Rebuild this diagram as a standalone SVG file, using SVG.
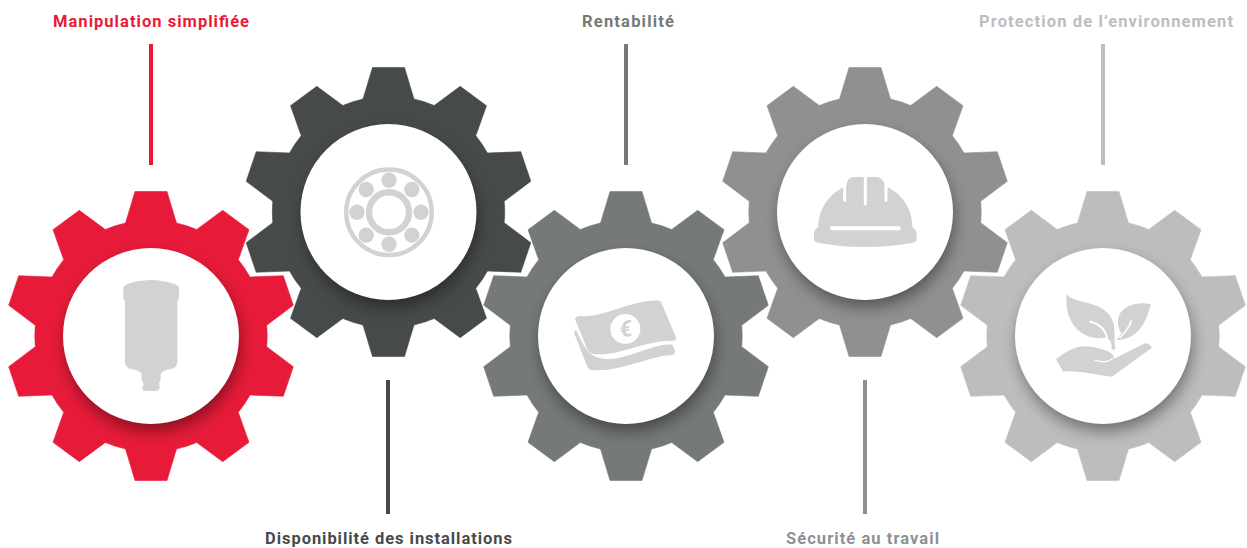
<svg xmlns="http://www.w3.org/2000/svg" xmlns:xlink="http://www.w3.org/1999/xlink" width="1247" height="548" viewBox="0 0 1247 548">
<style>
text{font-family:"Roboto","Liberation Sans",sans-serif;font-weight:700;font-size:16.5px}
.ic{fill:#d1d2d4}
.wl{fill:none;stroke:#fff;stroke-linecap:round}
.disc{fill:#fff}
.sh{fill:#000;fill-opacity:.42;filter:url(#blur)}
.gear{stroke-width:.6;stroke-linejoin:round}
</style>
<defs>
<filter id="blur" x="-30%" y="-30%" width="160%" height="160%"><feGaussianBlur stdDeviation="8"/></filter>
<path id="gp" d="M-16,-144.5H16L25.5,-113A116,116 0 0 1 45.7,-106.5L71.7,-125.7L98,-106.3L87.3,-76.3A116,116 0 0 1 99,-59L132.3,-60.3L142.3,-30.7L115.7,-10.7A116,116 0 0 1 115.7,10.7L142.3,30.7L132.3,60.3L99,59A116,116 0 0 1 87.3,76.3L98,106.3L71.7,125.7L45.7,106.5A116,116 0 0 1 25.5,113L16,144.5H-16L-25.5,113A116,116 0 0 1 -45.7,106.5L-71.7,125.7L-98,106.3L-87.3,76.3A116,116 0 0 1 -99,59L-132.3,60.3L-142.3,30.7L-115.7,10.7A116,116 0 0 1 -115.7,-10.7L-142.3,-30.7L-132.3,-60.3L-99,-59A116,116 0 0 1 -87.3,-76.3L-98,-106.3L-71.7,-125.7L-45.7,-106.5A116,116 0 0 1 -25.5,-113Z"/>
<clipPath id="gc"><use xlink:href="#gp" href="#gp"/></clipPath>
<g id="base">
<g clip-path="url(#gc)"><circle class="sh" cx="2" cy="8" r="87"/></g>
<circle class="disc" r="88"/>
</g>
</defs>
<g id="connectors" stroke-width="4" fill="none">
<line x1="151" y1="44" x2="151" y2="165" stroke="#e71b39"/>
<line x1="388" y1="380" x2="388" y2="514" stroke="#474a4b"/>
<line x1="626" y1="44" x2="626" y2="165" stroke="#76797a"/>
<line x1="865" y1="380" x2="865" y2="514" stroke="#8f9092"/>
<line x1="1103" y1="44" x2="1103" y2="165" stroke="#bcbdbf"/>
</g>
<g id="node-manipulation">
<g transform="translate(151,336)"><use href="#gp" class="gear" fill="#e71b39" stroke="#e71b39"/><use href="#base"/></g>
<path class="ic" transform="translate(0,170) scale(.3333)" d="M370,352Q375,342 405,335Q453,325 500,335Q532,342 537,352V384Q537,390 532,390V575Q532,592 515,597Q485,600 482,612V630Q476,638 478,648Q481,654 478,658Q474,663 465,663H440Q428,663 427,656Q426,650 431,646Q431,636 425,630V612Q420,600 392,597Q375,592 375,575V390Q370,390 370,384Z"/>
<text x="53" y="27" textLength="196" lengthAdjust="spacing" fill="#e71b39">Manipulation simplifiée</text>
</g>
<g id="node-disponibilite">
<g transform="translate(388.5,212)"><use href="#gp" class="gear" fill="#474a4b" stroke="#474a4b"/><use href="#base"/></g>
<g transform="translate(389,212.3)">
<circle r="42.8" fill="none" stroke="#d1d2d4" stroke-width="4.4"/>
<circle r="20" fill="none" stroke="#d1d2d4" stroke-width="6.4"/>
<g class="ic"><circle cx="32" r="7.7"/><circle cx="-32" r="7.7"/><circle cy="32" r="7.7"/><circle cy="-32" r="7.7"/><circle cx="22.8" cy="22.8" r="7.7"/><circle cx="-22.8" cy="22.8" r="7.7"/><circle cx="22.8" cy="-22.8" r="7.7"/><circle cx="-22.8" cy="-22.8" r="7.7"/></g>
</g>
<text x="265" y="544" textLength="247" lengthAdjust="spacing" fill="#474a4b">Disponibilité des installations</text>
</g>
<g id="node-rentabilite">
<g transform="translate(626,336)"><use href="#gp" class="gear" fill="#76797a" stroke="#76797a"/><use href="#base"/></g>
<g transform="translate(550,290) scale(.3333)">
<path class="ic" d="M75,88Q76,79 90,78C160,85 230,35 320,31Q332,31 336,42L378,142Q380,152 370,152C280,150 210,200 130,192Q118,190 112,178Z"/>
<path class="ic" d="M72,128Q72,120 80,122C100,165 112,195 150,205C220,220 290,165 362,163Q370,165 372,175L375,185Q374,194 365,195C290,200 210,248 125,240Q115,238 110,225Z"/>
<circle cx="226" cy="117" r="45" fill="#fff"/>
<text x="226" y="140" transform="rotate(-10 226 117) skewX(-8)" text-anchor="middle" style="font-size:66px" fill="#d1d2d4" dx="18">€</text>
</g>
<text x="582" y="27" textLength="92" lengthAdjust="spacing" fill="#76797a">Rentabilité</text>
</g>
<g id="node-securite">
<g transform="translate(865,212)"><use href="#gp" class="gear" fill="#8f9092" stroke="#8f9092"/><use href="#base"/></g>
<g transform="translate(790,160) scale(.3333)">
<path class="ic" d="M72,240V218Q74,208 85,200C85,150 115,105 160,82Q170,80 171,68Q175,52 190,51H258Q278,52 283,70Q284,80 293,82C340,105 367,150 367,200Q378,208 380,218V240Q378,247 370,248C280,265 170,265 82,248Q74,247 72,240Z"/>
<line class="wl" x1="126" y1="205" x2="326" y2="205" stroke-width="12"/>
<line class="wl" x1="226" y1="44" x2="226" y2="132" stroke-width="9"/>
<line class="wl" x1="164" y1="70" x2="164" y2="121" stroke-width="9"/>
<line class="wl" x1="288" y1="70" x2="288" y2="121" stroke-width="9"/>
</g>
<text x="786" y="544" textLength="153" lengthAdjust="spacing" fill="#8f9092">Sécurité au travail</text>
</g>
<g id="node-protection">
<g transform="translate(1103,336)"><use href="#gp" class="gear" fill="#bcbdbf" stroke="#bcbdbf"/><use href="#base"/></g>
<g transform="translate(1030,280) scale(.3333)">
<path class="ic" d="M110,42C130,72 205,60 238,105C262,135 250,170 256,206Q250,212 245,206C245,190 245,180 225,172C180,185 100,150 110,42Z"/>
<path class="wl" d="M180,125C210,132 228,150 232,178" stroke-width="6"/>
<path class="ic" d="M362,72C320,65 280,78 268,105C258,128 268,150 274,160L260,180C300,180 345,155 362,72Z"/>
<path class="wl" d="M304,122C296,145 285,158 270,172" stroke-width="5"/>
<path class="ic" d="M78,238C115,210 150,185 215,208C240,213 254,225 252,236L345,190Q358,190 366,203C325,232 285,262 245,290C195,285 145,270 100,275Z"/>
<path class="wl" d="M196,241C215,247 235,248 247,235" stroke-width="4"/>
</g>
<text x="979" y="27" textLength="254" lengthAdjust="spacing" fill="#bcbdbf">Protection de l’environnement</text>
</g>
</svg>
